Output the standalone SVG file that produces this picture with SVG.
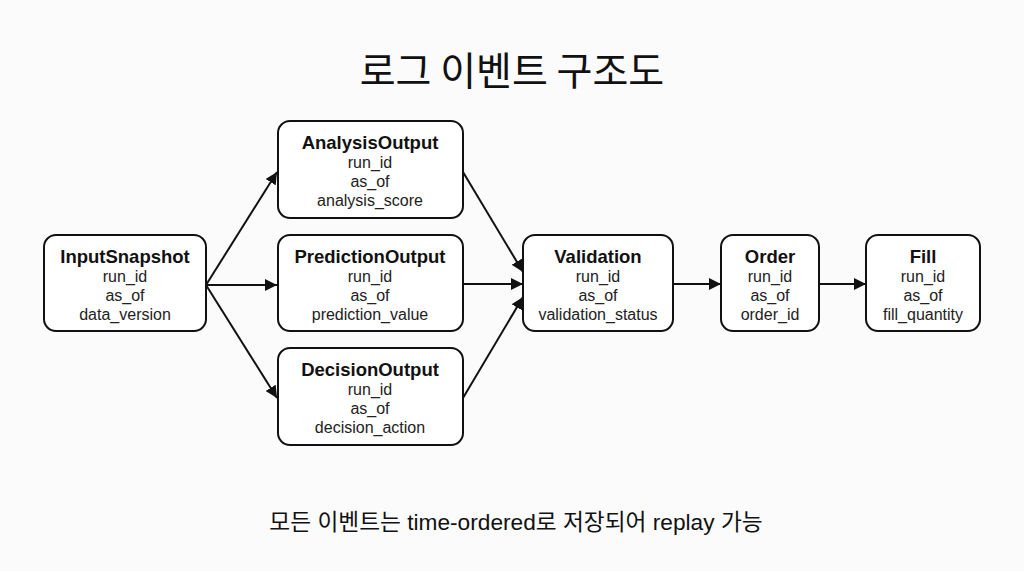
<svg xmlns="http://www.w3.org/2000/svg" width="1024" height="571" viewBox="0 0 1024 571">
<defs>
<marker id="ah" viewBox="0 0 10 10" refX="10" refY="5" markerWidth="12" markerHeight="12" markerUnits="userSpaceOnUse" orient="auto">
<path d="M0,0 L10,5 L0,10 z" fill="#111"/>
</marker>
</defs>
<style>
.box{fill:#fff;stroke:#111;stroke-width:2}
.t{font-family:"Liberation Sans","Noto Sans CJK KR",sans-serif;font-size:18.5px;font-weight:bold;fill:#111;text-anchor:middle}
.f{font-family:"Liberation Sans","Noto Sans CJK KR",sans-serif;font-size:16px;fill:#222;text-anchor:middle}
.c{stroke:#111;stroke-width:2;fill:none;marker-end:url(#ah)}
</style>
<rect width="1024" height="571" fill="#fbfbfb"/>
<text x="512" y="85" font-family="'Noto Sans CJK KR',sans-serif" font-size="39" font-weight="normal" fill="#111" text-anchor="middle">로그 이벤트 구조도</text>
<g id="connectors">
<line class="c" x1="206" y1="285" x2="277" y2="172"/>
<line class="c" x1="206" y1="285" x2="277" y2="285"/>
<line class="c" x1="206" y1="285" x2="277" y2="398"/>
<line class="c" x1="463" y1="172" x2="523" y2="272"/>
<line class="c" x1="463" y1="284" x2="523" y2="284"/>
<line class="c" x1="463" y1="398" x2="523" y2="297"/>
<line class="c" x1="673" y1="284" x2="721" y2="284"/>
<line class="c" x1="819" y1="284" x2="866" y2="284"/>
</g>
<g id="InputSnapshot">
<rect class="box" x="44" y="235" width="162" height="96" rx="12"/>
<text class="t" x="125" y="263">InputSnapshot</text>
<text class="f" x="125" y="282">run_id</text>
<text class="f" x="125" y="301">as_of</text>
<text class="f" x="125" y="320">data_version</text>
</g>
<g id="AnalysisOutput">
<rect class="box" x="278" y="121" width="185" height="97" rx="12"/>
<text class="t" x="370" y="149">AnalysisOutput</text>
<text class="f" x="370" y="168">run_id</text>
<text class="f" x="370" y="187">as_of</text>
<text class="f" x="370" y="206">analysis_score</text>
</g>
<g id="PredictionOutput">
<rect class="box" x="278" y="235" width="185" height="96" rx="12"/>
<text class="t" x="370" y="263">PredictionOutput</text>
<text class="f" x="370" y="282">run_id</text>
<text class="f" x="370" y="301">as_of</text>
<text class="f" x="370" y="320">prediction_value</text>
</g>
<g id="DecisionOutput">
<rect class="box" x="278" y="348" width="185" height="97" rx="12"/>
<text class="t" x="370" y="376">DecisionOutput</text>
<text class="f" x="370" y="395">run_id</text>
<text class="f" x="370" y="414">as_of</text>
<text class="f" x="370" y="433">decision_action</text>
</g>
<g id="Validation">
<rect class="box" x="523" y="235" width="150" height="96" rx="12"/>
<text class="t" x="598" y="263">Validation</text>
<text class="f" x="598" y="282">run_id</text>
<text class="f" x="598" y="301">as_of</text>
<text class="f" x="598" y="320">validation_status</text>
</g>
<g id="Order">
<rect class="box" x="721" y="235" width="98" height="96" rx="12"/>
<text class="t" x="770" y="263">Order</text>
<text class="f" x="770" y="282">run_id</text>
<text class="f" x="770" y="301">as_of</text>
<text class="f" x="770" y="320">order_id</text>
</g>
<g id="Fill">
<rect class="box" x="866" y="235" width="114" height="96" rx="12"/>
<text class="t" x="923" y="263">Fill</text>
<text class="f" x="923" y="282">run_id</text>
<text class="f" x="923" y="301">as_of</text>
<text class="f" x="923" y="320">fill_quantity</text>
</g>
<text x="516" y="530" font-family="'Liberation Sans','Noto Sans CJK KR',sans-serif" font-size="22.7" fill="#111" text-anchor="middle">모든 이벤트는 time-ordered로 저장되어 replay 가능</text>
</svg>
